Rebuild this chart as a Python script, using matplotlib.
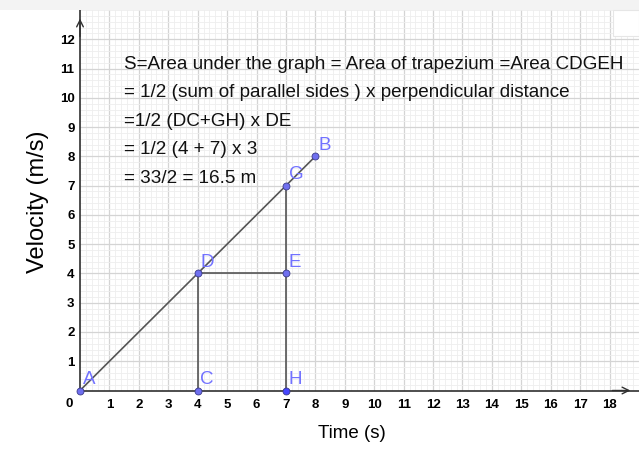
import matplotlib
matplotlib.use('Agg')
import matplotlib.pyplot as plt
import numpy as np

plt.rcParams['font.family'] = ['Liberation Sans', 'DejaVu Sans']

# points of the velocity-time graph
point_names = ['A', 'C', 'D', 'E', 'G', 'H', 'B']
point_x = [0, 4, 4, 7, 7, 7, 8]
point_y = [0, 0, 4, 4, 7, 0, 8]

# segments drawn between named points
segments = [('A', 'B'), ('D', 'C'), ('D', 'E'), ('G', 'H')]

x_ticks = list(range(1, 19))
y_ticks = list(range(1, 13))

notes = [
    'S=Area under the graph = Area of trapezium =Area CDGEH',
    '= 1/2 (sum of parallel sides ) x perpendicular distance',
    '=1/2 (DC+GH) x DE',
    '= 1/2 (4 + 7) x 3',
    '= 33/2 = 16.5 m',
]

W, H = 639, 474
fig = plt.figure(figsize=(W / 100, H / 100), dpi=100)

# grey toolbar strip at the top
fig.patches.append(plt.Rectangle((0, 1 - 10 / H), 1, 10 / H, transform=fig.transFigure,
                                 facecolor='#f3f3f3', edgecolor='none'))
fig.patches.append(plt.Rectangle((613 / W, 1 - 36 / H), 26 / W, 26 / H, transform=fig.transFigure,
                                 facecolor='white', edgecolor='#e6e6e6', lw=0.8, zorder=5))

x0_px, y0_px = 80, 390.5
px_x, px_y = 29.44, 29.5
ax = fig.add_axes([x0_px / W, (H - y0_px) / H, (W - x0_px) / W, (y0_px - 10) / H])
ax.set_xlim(0, (W - x0_px) / px_x)
ax.set_ylim(0, (y0_px - 10) / px_y)

ax.set_xticks(x_ticks)
ax.set_yticks(y_ticks)
ax.set_xticks(np.arange(0, 19.01, 0.2), minor=True)
ax.set_yticks(np.arange(0, 13.01, 0.2), minor=True)
ax.grid(which='minor', color='#eeeeee', lw=0.6)
ax.grid(which='major', color='#d4d4d4', lw=0.9)
ax.set_axisbelow(True)
ax.tick_params(which='both', length=0)
ax.tick_params(axis='x', pad=6, labelsize=9.5)
ax.tick_params(axis='y', pad=4, labelsize=9.5)
for lab in ax.get_xticklabels() + ax.get_yticklabels():
    lab.set_fontweight('bold')

for side in ['top', 'right']:
    ax.spines[side].set_visible(False)
for side in ['left', 'bottom']:
    ax.spines[side].set_color('#303030')
    ax.spines[side].set_linewidth(1.2)

# axis arrows
ax.annotate('', xy=(18.8, 0), xytext=(18.0, 0),
            arrowprops=dict(arrowstyle='->', lw=1.0, color='#303030', mutation_scale=12),
            annotation_clip=False)
ax.annotate('', xy=(0, 12.8), xytext=(0, 12.0),
            arrowprops=dict(arrowstyle='->', lw=1.0, color='#303030', mutation_scale=12),
            annotation_clip=False)
ax.text(-0.38, -0.47, '0', fontsize=9.5, fontweight='bold', ha='center', va='center')

pts = {n: (x, y) for n, x, y in zip(point_names, point_x, point_y)}
for a, b in segments:
    ax.plot([pts[a][0], pts[b][0]], [pts[a][1], pts[b][1]], color='#555555', lw=1.2,
            clip_on=False, zorder=3)

for n, x, y in zip(point_names, point_x, point_y):
    fc = '#4646ff' if n == 'H' else '#6f6fef'
    ax.plot(x, y, 'o', ms=5, mfc=fc, mec='#3a3a8a', mew=0.6, clip_on=False, zorder=4)
    ax.annotate(n, (x, y), xytext=(2, 2), textcoords='offset points', color='#7272ff',
                fontsize=13.5, ha='left', va='bottom', zorder=5)

for i, line in enumerate(notes):
    ax.text(1.5, 11.14 - 0.97 * i, line, fontsize=13.6, color='#111111', va='center', ha='left')

fig.text(352 / W, 1 - 434 / H, 'Time (s)', fontsize=13.5, ha='center', va='center')
fig.text(38 / W, 1 - 202 / H, 'Velocity (m/s)', fontsize=17, rotation=90, ha='center', va='center')

fig.savefig('out.png', dpi=100)
